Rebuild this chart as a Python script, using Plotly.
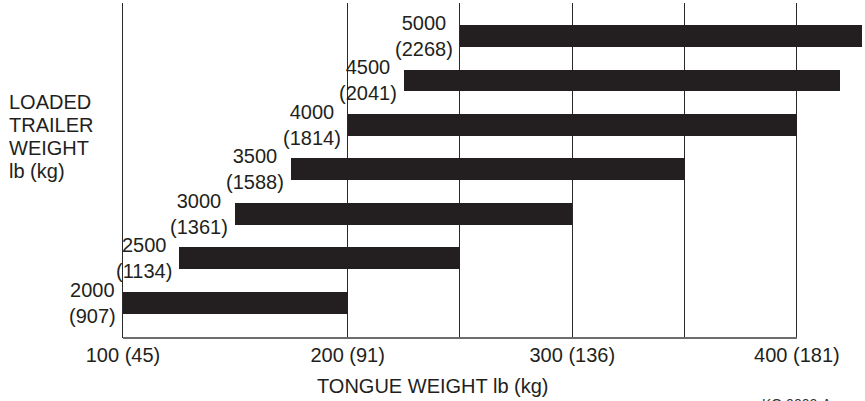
import plotly.graph_objects as go

# Data
trailer_lb = [2000, 2500, 3000, 3500, 4000, 4500, 5000]
trailer_kg = [907, 1134, 1361, 1588, 1814, 2041, 2268]
tongue_min = [100, 125, 150, 175, 200, 225, 250]
tongue_max = [200, 250, 300, 350, 400, 419, 429]
grid_vals = [100, 200, 250, 300, 350, 400]
tick_text = ["100 (45)", "200 (91)", "", "300 (136)", "", "400 (181)"]
y_title_lines = ["LOADED", "TRAILER", "WEIGHT", "lb (kg)"]

FONT = "Liberation Sans, Arial, sans-serif"
TXT = "#231f20"

ypos = list(range(len(trailer_lb)))

fig = go.Figure()
fig.add_trace(go.Bar(
    y=ypos,
    x=[b - a for a, b in zip(tongue_min, tongue_max)],
    base=tongue_min,
    orientation="h",
    width=0.49,
    marker=dict(color="#231f20", line=dict(width=0)),
    hoverinfo="skip",
    showlegend=False,
))

# category labels
for yi, lb, kg, start in zip(ypos, trailer_lb, trailer_kg, tongue_min):
    fig.add_annotation(
        x=start, y=yi, xref="x", yref="y",
        text=f"{lb}<br>({kg})", showarrow=False,
        xanchor="right", yanchor="middle", align="center", xshift=-5,
        font=dict(family=FONT, size=20, color=TXT),
    )

# x-axis baseline from first to last gridline
fig.add_shape(type="line", xref="x", yref="paper",
              x0=min(grid_vals), x1=max(grid_vals), y0=0, y1=0,
              line=dict(color="#6d6d6d", width=2), layer="above")

# y title, one line at a time (tight leading)
n = len(y_title_lines)
for i, line in enumerate(y_title_lines):
    fig.add_annotation(
        xref="paper", yref="paper", x=0, y=0.601, xshift=-116,
        yshift=(n - 1) / 2 * 23 - i * 23,
        xanchor="left", yanchor="middle", align="left", showarrow=False,
        text=line,
        font=dict(family=FONT, size=20, color=TXT),
    )
# x title
fig.add_annotation(
    xref="paper", yref="paper", x=0.418, y=0, yshift=-48,
    xanchor="center", yanchor="middle", showarrow=False,
    text="TONGUE WEIGHT lb (kg)",
    font=dict(family=FONT, size=20, color=TXT),
)
# figure code, cut at bottom
fig.add_annotation(
    xref="paper", yref="paper", x=0.858, y=0, yshift=-56,
    xanchor="left", yanchor="top", showarrow=False,
    text="KO 0000-A",
    font=dict(family=FONT, size=14, color="#333"),
)

fig.update_layout(
    width=865, height=401,
    margin=dict(l=123, r=0, t=3, b=63),
    paper_bgcolor="white", plot_bgcolor="white",
    bargap=0,
    xaxis=dict(
        range=[100, 430.3], tickvals=grid_vals, ticktext=tick_text,
        showgrid=True, gridcolor="#2a2a2a", gridwidth=1.3,
        zeroline=False, showline=False, ticks="",
        ticklabelstandoff=3,
        tickfont=dict(family=FONT, size=20, color=TXT),
        fixedrange=True,
    ),
    yaxis=dict(
        range=[-0.79, 6.74], showticklabels=False, showgrid=False,
        zeroline=False, showline=True, linecolor="#2a2a2a", linewidth=1.3,
        ticks="", fixedrange=True,
    ),
)

fig.write_html(
    "out.html",
    config={"displayModeBar": False},
    post_script="document.body.style.margin='0px';document.body.style.overflow='hidden';",
)
